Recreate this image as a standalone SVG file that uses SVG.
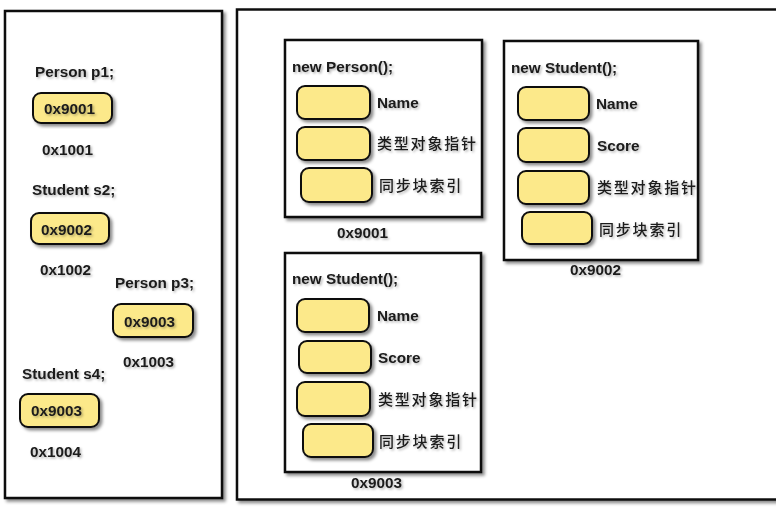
<svg xmlns="http://www.w3.org/2000/svg" width="776" height="509" viewBox="0 0 776 509">
<defs>
<filter id="sh" x="-10%" y="-10%" width="130%" height="130%">
<feDropShadow dx="2.5" dy="2.5" stdDeviation="1.5" flood-color="#000" flood-opacity="0.45"/>
</filter>
<filter id="tsh" x="-10%" y="-30%" width="130%" height="170%">
<feDropShadow dx="1.5" dy="1.5" stdDeviation="1" flood-color="#000" flood-opacity="0.3"/>
</filter>
</defs>
<style>
.panel{fill:#fff;stroke:#111;stroke-width:2.5;filter:url(#sh)}
.box{fill:#fff;stroke:#111;stroke-width:2.5;filter:url(#sh)}
.cell{fill:#FCE98A;stroke:#111;stroke-width:2;filter:url(#sh)}
.t{font-family:"Liberation Sans",Arial,sans-serif;font-weight:bold;font-size:15.3px;fill:#1a1a1a;filter:url(#tsh)}
.c{font-family:"Noto Sans CJK SC",sans-serif;font-size:15px;font-weight:500;letter-spacing:1.8px;fill:#1a1a1a;filter:url(#tsh)}
</style>
<rect width="776" height="509" fill="#fff"/>

<g id="stack-panel">
<rect class="panel" x="5" y="11" width="217" height="487"/>
</g>
<g id="heap-panel">
<rect class="panel" x="237" y="9.5" width="560" height="490"/>
</g>

<g id="var-p1">
<text class="t" x="35" y="77">Person p1;</text>
<rect class="cell" x="33" y="93" width="79" height="30" rx="8"/>
<text class="t" x="44" y="114">0x9001</text>
<text class="t" x="42" y="155">0x1001</text>
</g>
<g id="var-s2">
<text class="t" x="32" y="195">Student s2;</text>
<rect class="cell" x="31" y="213" width="78" height="31" rx="8"/>
<text class="t" x="41" y="235">0x9002</text>
<text class="t" x="40" y="275">0x1002</text>
</g>
<g id="var-p3">
<text class="t" x="115" y="288">Person p3;</text>
<rect class="cell" x="113" y="304" width="80" height="33" rx="8"/>
<text class="t" x="124" y="327">0x9003</text>
<text class="t" x="123" y="367">0x1003</text>
</g>
<g id="var-s4">
<text class="t" x="22" y="379">Student s4;</text>
<rect class="cell" x="20" y="394" width="79" height="33" rx="8"/>
<text class="t" x="31" y="416">0x9003</text>
<text class="t" x="30" y="457">0x1004</text>
</g>

<g id="obj-9001">
<rect class="box" x="285" y="40" width="197" height="177"/>
<text class="t" x="292" y="72">new Person();</text>
<rect class="cell" x="297" y="86" width="73" height="33" rx="8"/>
<text class="t" x="377" y="108">Name</text>
<rect class="cell" x="297" y="127" width="73" height="33" rx="8"/>
<text class="c" x="377" y="149">类型对象指针</text>
<rect class="cell" x="301" y="168" width="71" height="34" rx="8"/>
<text class="c" x="379" y="191">同步块索引</text>
<text class="t" x="337" y="238">0x9001</text>
</g>

<g id="obj-9002">
<rect class="box" x="504" y="41" width="194" height="219"/>
<text class="t" x="511" y="73">new Student();</text>
<rect class="cell" x="518" y="87" width="71" height="33" rx="8"/>
<text class="t" x="596" y="109">Name</text>
<rect class="cell" x="518" y="128" width="71" height="34" rx="8"/>
<text class="t" x="597" y="151">Score</text>
<rect class="cell" x="518" y="171" width="71" height="33" rx="8"/>
<text class="c" x="597" y="193">类型对象指针</text>
<rect class="cell" x="522" y="212" width="70" height="32" rx="8"/>
<text class="c" x="599" y="235">同步块索引</text>
<text class="t" x="570" y="275">0x9002</text>
</g>

<g id="obj-9003">
<rect class="box" x="285" y="253" width="196" height="219"/>
<text class="t" x="292" y="284">new Student();</text>
<rect class="cell" x="297" y="299" width="72" height="33" rx="8"/>
<text class="t" x="377" y="321">Name</text>
<rect class="cell" x="299" y="341" width="72" height="32" rx="8"/>
<text class="t" x="378" y="363">Score</text>
<rect class="cell" x="297" y="382" width="73" height="34" rx="8"/>
<text class="c" x="378" y="405">类型对象指针</text>
<rect class="cell" x="303" y="424" width="70" height="33" rx="8"/>
<text class="c" x="379" y="447">同步块索引</text>
<text class="t" x="351" y="488">0x9003</text>
</g>
</svg>
